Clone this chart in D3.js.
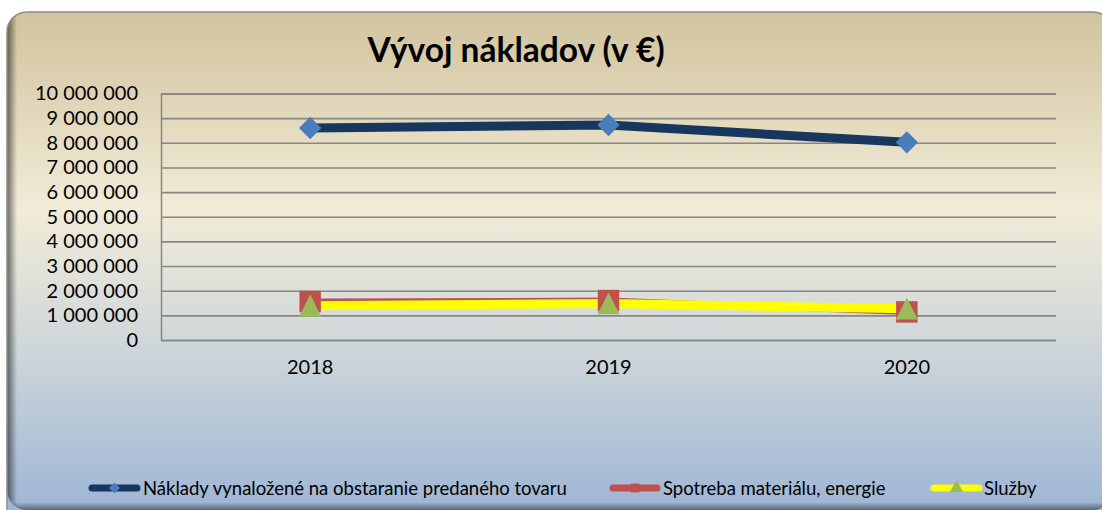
<!DOCTYPE html>
<html>
<head>
<meta charset="utf-8">
<script src="https://cdn.jsdelivr.net/npm/d3@7"></script>
<style>
  html, body { margin: 0; padding: 0; background: #ffffff; }
  svg { display: block; }
  text { font-family: Lato, "Open Sans", "DejaVu Sans", sans-serif; fill: #000; }
</style>
</head>
<body>
<svg id="chart" width="1102" height="510"></svg>
<script>
// ---- data ----
const years = ["2018", "2019", "2020"];
const naklady = [8600000, 8720000, 8020000];   // Náklady vynaložené na obstaranie predaného tovaru
const spotreba = [1560000, 1600000, 1140000];  // Spotreba materiálu, energie
const sluzby = [1390000, 1480000, 1270000];    // Služby
const yTicks = [0, 1000000, 2000000, 3000000, 4000000, 5000000, 6000000, 7000000, 8000000, 9000000, 10000000];
const seriesNames = ["Náklady vynaložené na obstaranie predaného tovaru", "Spotreba materiálu, energie", "Služby"];
const titleText = "Vývoj nákladov (v €)";

const W = 1102, H = 510;
const svg = d3.select("#chart");
const defs = svg.append("defs");

// background gradient
const bg = defs.append("linearGradient").attr("id", "bg").attr("x1", 0).attr("y1", 0).attr("x2", 0).attr("y2", 1);
[[0, "#d1c39d"], [0.38, "#f1ebd8"], [0.62, "#d2d9da"], [1, "#98b2d4"]].forEach(s =>
  bg.append("stop").attr("offset", s[0]).attr("stop-color", s[1]));
const shL = defs.append("linearGradient").attr("id", "shL").attr("x1", 0).attr("y1", 0).attr("x2", 1).attr("y2", 0);
shL.append("stop").attr("offset", 0).attr("stop-color", "#000").attr("stop-opacity", 0.55);
shL.append("stop").attr("offset", 1).attr("stop-color", "#000").attr("stop-opacity", 0);
const shB = defs.append("linearGradient").attr("id", "shB").attr("x1", 0).attr("y1", 1).attr("x2", 0).attr("y2", 0);
shB.append("stop").attr("offset", 0).attr("stop-color", "#000").attr("stop-opacity", 0.45);
shB.append("stop").attr("offset", 1).attr("stop-color", "#000").attr("stop-opacity", 0);

const panel = {x: 7, y: 12, w: 1106, h: 498, r: 20};
defs.append("clipPath").attr("id", "pclip").append("rect")
  .attr("x", panel.x).attr("y", panel.y).attr("width", panel.w).attr("height", panel.h).attr("rx", panel.r);

svg.append("rect").attr("x", panel.x).attr("y", panel.y).attr("width", panel.w).attr("height", panel.h + 20)
  .attr("rx", panel.r).attr("fill", "url(#bg)");
const shade = svg.append("g").attr("clip-path", "url(#pclip)");
shade.append("rect").attr("x", panel.x).attr("y", panel.y).attr("width", 10).attr("height", panel.h).attr("fill", "url(#shL)");
shade.append("rect").attr("x", panel.x).attr("y", 502).attr("width", panel.w).attr("height", 8).attr("fill", "url(#shB)");
svg.append("rect").attr("x", panel.x).attr("y", panel.y).attr("width", panel.w).attr("height", panel.h + 20)
  .attr("rx", panel.r).attr("fill", "none").attr("stroke", "#8c8c8c").attr("stroke-width", 1.5);

// ---- scales ----
const plot = {l: 161, r: 1056, t: 93.5, b: 340};
const x = d3.scaleBand().domain(years).range([plot.l, plot.r]);
const xc = d => x(d) + x.bandwidth() / 2;
const y = d3.scaleLinear().domain([0, 10000000]).range([plot.b, plot.t]);

// gridlines
const fmt = v => d3.format(",")(v).replace(/,/g, " ");
const yAxis = d3.axisLeft(y).tickValues(yTicks).tickSize(-(plot.r - plot.l)).tickFormat(fmt).tickPadding(23);
const gy = svg.append("g").attr("transform", `translate(${plot.l},0)`).call(yAxis);
gy.select(".domain").attr("stroke", "#868686").attr("stroke-width", 1.5);
gy.selectAll(".tick line").attr("stroke", "#868686").attr("stroke-width", 1.6);
gy.selectAll(".tick text").style("font-size", "20px").attr("fill", "#000");

const xAxis = d3.axisBottom(x).tickSize(0).tickPadding(20);
const gx = svg.append("g").attr("transform", `translate(0,${plot.b})`).call(xAxis);
gx.select(".domain").remove();
gx.selectAll(".tick text").style("font-size", "20px").attr("fill", "#000");

// ---- series ----
const line = d3.line().x((d, i) => xc(years[i])).y(d => y(d));
const series = [
  {name: seriesNames[0], data: naklady, stroke: "#17375e", width: 9, marker: "diamond", fill: "#4a7ebb", size: 250},
  {name: seriesNames[1], data: spotreba, stroke: "#c0504d", width: 6, marker: "square", fill: "#c0504d", size: 460},
  {name: seriesNames[2], data: sluzby, stroke: "#ffff00", width: 9, marker: "triangle", fill: "#9bbb59", size: 210}
];
const symType = {diamond: d3.symbolSquare, square: d3.symbolSquare, triangle: d3.symbolTriangle};

series.forEach(s => {
  svg.append("path").datum(s.data).attr("d", line).attr("fill", "none")
    .attr("stroke", s.stroke).attr("stroke-width", s.width).attr("stroke-linejoin", "round");
});
series.forEach(s => {
  svg.append("g").selectAll("path").data(s.data).join("path")
    .attr("d", d3.symbol().type(symType[s.marker]).size(s.size))
    .attr("transform", (d, i) => `translate(${xc(years[i])},${y(d)})` + (s.marker === "diamond" ? " rotate(45)" : "") + (s.marker === "triangle" ? " translate(0,3.5) scale(1,1.15)" : ""))
    .attr("fill", s.fill);
});

// ---- title ----
svg.append("text").attr("x", 516).attr("y", 62).attr("text-anchor", "middle")
  .style("font-size", "33.5px").style("font-weight", "bold").text(titleText);

// ---- legend ----
const legend = [
  {x0: 89, x1: 140, tx: 143},
  {x0: 610, x1: 660, tx: 663},
  {x0: 931, x1: 982, tx: 984}
];
const ly = 488;
series.forEach((s, i) => {
  const L = legend[i];
  svg.append("line").attr("x1", L.x0 + 3).attr("x2", L.x1 - 3).attr("y1", ly).attr("y2", ly)
    .attr("stroke", s.stroke).attr("stroke-width", 7).attr("stroke-linecap", "round");
  svg.append("path").attr("d", d3.symbol().type(symType[s.marker]).size(s.marker === "diamond" ? 60 : 80))
    .attr("transform", `translate(${(L.x0 + L.x1) / 2},${ly})` + (s.marker === "diamond" ? " rotate(45)" : ""))
    .attr("fill", s.fill);
  svg.append("text").attr("x", L.tx).attr("y", ly + 7).style("font-size", "18.5px").text(s.name);
});
</script>
</body>
</html>
